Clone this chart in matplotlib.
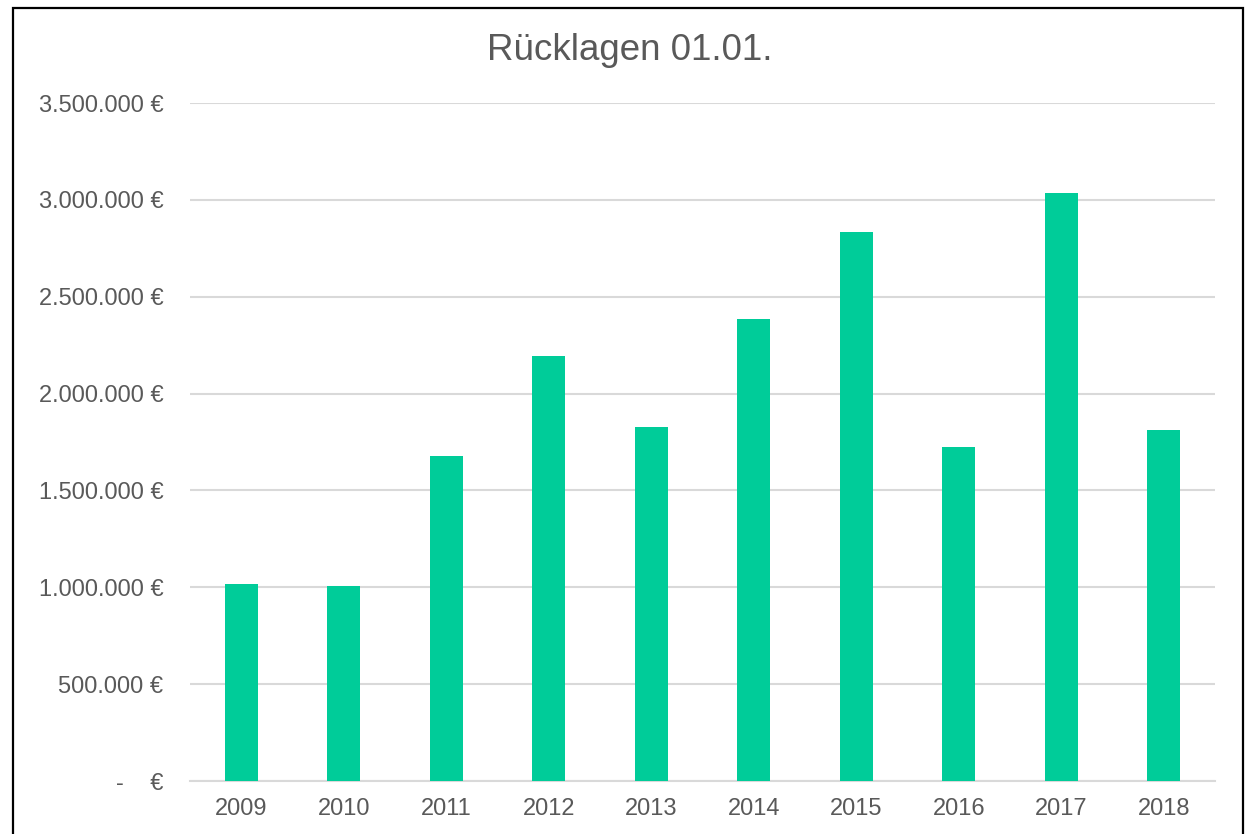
import matplotlib.pyplot as plt
from matplotlib.patches import Rectangle
from matplotlib.ticker import FuncFormatter

plt.rcParams['font.family'] = ['Liberation Sans', 'DejaVu Sans']

years = ['2009', '2010', '2011', '2012', '2013', '2014', '2015', '2016', '2017', '2018']
ruecklagen = [1015000, 1008000, 1678000, 2194000, 1827000, 2385000, 2834000, 1724000, 3035000, 1812000]
yticks = [0, 500000, 1000000, 1500000, 2000000, 2500000, 3000000, 3500000]

bar_color = '#00CC99'
text_color = '#595959'
grid_color = '#D9D9D9'


def euro(v, pos):
    if v == 0:
        return '-    €'
    return '{:,.0f} €'.format(v).replace(',', '.')


fig = plt.figure(figsize=(12.45, 8.34), dpi=100)
ax = fig.add_axes([190 / 1245, 53 / 834, 1025 / 1245, 678 / 834])

ax.bar(years, ruecklagen, width=0.32, color=bar_color, zorder=3)

ax.set_ylim(0, 3500000)
ax.set_xlim(-0.5, len(years) - 0.5)
ax.set_yticks(yticks)
ax.yaxis.set_major_formatter(FuncFormatter(euro))
ax.grid(axis='y', color=grid_color, linewidth=1.5, zorder=0)
ax.set_axisbelow(True)

for s in ['top', 'right', 'left']:
    ax.spines[s].set_visible(False)
ax.spines['bottom'].set_color(grid_color)
ax.spines['bottom'].set_linewidth(1.5)

ax.tick_params(axis='y', length=0, pad=19, labelsize=17, labelcolor=text_color)
ax.tick_params(axis='x', length=0, pad=12, labelsize=17, labelcolor=text_color)

fig.text(630 / 1245, 1 - 51 / 834, 'Rücklagen 01.01.', ha='center', va='center',
         fontsize=26.5, color=text_color)

# black frame round the chart area
fig.patches.append(Rectangle((12.5 / 1245, -0.02), (1243 - 12.5) / 1245, 1.02 - 8 / 834,
                             transform=fig.transFigure, fill=False,
                             edgecolor='black', linewidth=1.6))

fig.savefig('out.png', dpi=100, facecolor='white')
